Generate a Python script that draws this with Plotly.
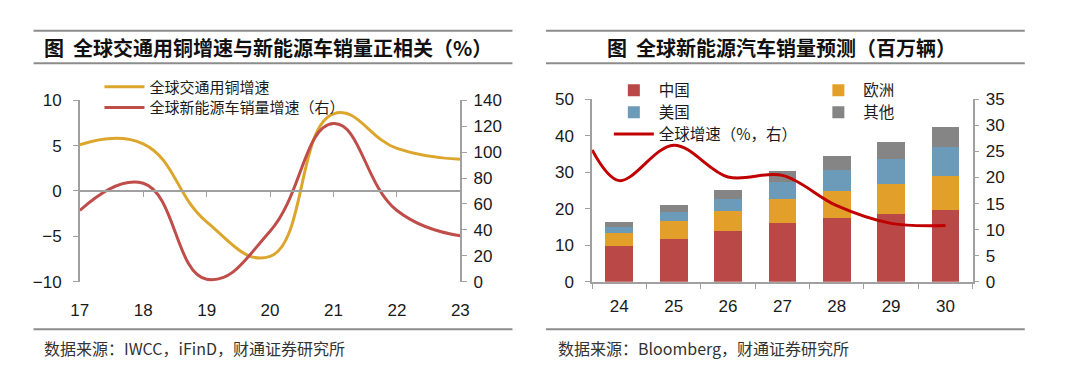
import plotly.graph_objects as go

# ---------------- Left chart data ----------------
left_years = [17, 18, 19, 20, 21, 22, 23]
left_ticktext = ["17", "18", "19", "20", "21", "22", "23"]
copper_growth = [5.1, 5.2, -3.4, -7.2, 8.5, 4.7, 3.5]        # 全球交通用铜增速 (left axis)
nev_sales_growth = [55, 76, 2, 39, 122, 55, 35.5]            # 全球新能源车销量增速 (right axis)

# ---------------- Right chart data ----------------
right_years = [24, 25, 26, 27, 28, 29, 30]
right_ticktext = ["24", "25", "26", "27", "28", "29", "30"]
china = [9.8, 11.8, 13.8, 16.1, 17.4, 18.5, 19.7]
europe = [3.6, 4.9, 5.6, 6.6, 7.6, 8.4, 9.2]
usa = [1.7, 2.3, 3.3, 4.7, 5.7, 6.8, 7.9]
other = [1.4, 1.9, 2.4, 2.9, 3.8, 4.6, 5.6]
growth_x = [23.5, 24, 25, 26, 27, 28, 29, 30]
global_growth = [25.3, 19.4, 26.2, 20.1, 20.4, 14.6, 11.2, 10.8]

W, H = 1080, 383
def px(x):
    return x / W
def py(y):
    return 1 - y / H

CJK = "Noto Sans CJK SC"
NUM = "Liberation Sans, Arial"
AXIS_GRAY = "#A0A0A0"
TXT = "#1a1a1a"

GOLD = "#DCA52C"
RED_L = "#BF4D4A"
C_CHINA = "#B94846"
C_EU = "#E2A02A"
C_US = "#6B9BB8"
C_OTHER = "#858585"
C_LINE = "#C00000"

fig = go.Figure()

# Left chart traces
fig.add_trace(go.Scatter(x=left_years, y=copper_growth, name="全球交通用铜增速",
                         mode="lines", line=dict(color=GOLD, width=3, shape="spline", smoothing=1.3),
                         xaxis="x", yaxis="y", legend="legend"))
fig.add_trace(go.Scatter(x=left_years, y=nev_sales_growth, name="全球新能源车销量增速（右）",
                         mode="lines", line=dict(color=RED_L, width=3, shape="spline", smoothing=1.3),
                         xaxis="x", yaxis="y2", legend="legend2"))

# Right chart traces
bw = 0.51
fig.add_trace(go.Bar(x=right_years, y=china, name="中国", marker=dict(color=C_CHINA, line=dict(width=0)),
                     width=bw, xaxis="x2", yaxis="y3", legend="legend3"))
fig.add_trace(go.Bar(x=right_years, y=europe, name="欧洲", marker=dict(color=C_EU, line=dict(width=0)),
                     width=bw, xaxis="x2", yaxis="y3", legend="legend4"))
fig.add_trace(go.Bar(x=right_years, y=usa, name="美国", marker=dict(color=C_US, line=dict(width=0)),
                     width=bw, xaxis="x2", yaxis="y3", legend="legend5"))
fig.add_trace(go.Bar(x=right_years, y=other, name="其他", marker=dict(color=C_OTHER, line=dict(width=0)),
                     width=bw, xaxis="x2", yaxis="y3", legend="legend6"))
fig.add_trace(go.Scatter(x=growth_x, y=global_growth, name="全球增速（%，右）", mode="lines",
                         line=dict(color=C_LINE, width=3, shape="spline", smoothing=1.0),
                         xaxis="x2", yaxis="y4", legend="legend7"))

tickfont = dict(family=NUM, size=17, color=TXT)
legfont_l = dict(family=CJK, size=15, color=TXT)
legfont_r = dict(family=CJK, size=15.5, color=TXT)

L_dom = [px(72), px(459)]
R_dom = [px(593), px(980)]
L_ydom = [py(287), py(96)]
R_ydom = [py(287), py(95)]

def leg(xpix, ypix, font):
    return dict(x=px(xpix), y=py(ypix), xanchor="left", yanchor="middle", orientation="v",
                bgcolor="rgba(0,0,0,0)", font=font, tracegroupgap=0, itemwidth=40,
                traceorder="normal")

fig.update_layout(
    width=W, height=H, margin=dict(l=0, r=0, t=0, b=0),
    paper_bgcolor="white", plot_bgcolor="white",
    barmode="stack", showlegend=True,
    # left x axis sits on the zero line; its labels are pushed down to the bottom
    xaxis=dict(domain=L_dom, range=[17, 23], tickvals=left_years, ticktext=left_ticktext,
               anchor="free", position=py(191.5),
               showline=True, linecolor=AXIS_GRAY, linewidth=1.5, showgrid=False, zeroline=False,
               ticks="outside", ticklen=5, tickcolor=AXIS_GRAY, tickfont=tickfont,
               ticklabelstandoff=99),
    yaxis=dict(domain=L_ydom, range=[-10, 10], tickvals=[-10, -5, 0, 5, 10], showline=True,
               linecolor=AXIS_GRAY, linewidth=1.5, ticks="outside", ticklen=5, tickcolor=AXIS_GRAY,
               showgrid=False, zeroline=False, tickfont=tickfont, ticklabelstandoff=8, anchor="x"),
    yaxis2=dict(domain=L_ydom, range=[0, 140], tickvals=[0, 20, 40, 60, 80, 100, 120, 140],
                overlaying="y", side="right", anchor="x", showline=True, linecolor=AXIS_GRAY,
                linewidth=1.5, ticks="outside", ticklen=5, tickcolor=AXIS_GRAY, showgrid=False,
                zeroline=False, tickfont=tickfont, ticklabelstandoff=3),
    xaxis2=dict(domain=R_dom, range=[23.5, 30.5], tickvals=right_years, ticktext=right_ticktext,
                showline=True, linecolor=AXIS_GRAY, linewidth=1.5, ticks="", showgrid=False,
                zeroline=False, tickfont=tickfont, ticklabelstandoff=8, anchor="y3",
                minor=dict(tick0=23.5, dtick=1, ticks="outside", ticklen=5, tickcolor=AXIS_GRAY,
                           showgrid=False)),
    yaxis3=dict(domain=R_ydom, range=[0, 50], tickvals=[0, 10, 20, 30, 40, 50], showline=True,
                linecolor=AXIS_GRAY, linewidth=1.5, ticks="outside", ticklen=5, tickcolor=AXIS_GRAY,
                showgrid=False, zeroline=False, tickfont=tickfont, ticklabelstandoff=8, anchor="x2"),
    yaxis4=dict(domain=R_ydom, range=[0, 35], tickvals=[0, 5, 10, 15, 20, 25, 30, 35],
                overlaying="y3", side="right", anchor="x2", showline=True, linecolor=AXIS_GRAY,
                linewidth=1.5, ticks="outside", ticklen=5, tickcolor=AXIS_GRAY, showgrid=False,
                zeroline=False, tickfont=tickfont, ticklabelstandoff=3),
    legend=leg(92, 82, legfont_l),
    legend2=leg(92, 104, legfont_l),
    legend3=leg(610, 86, legfont_r),
    legend4=leg(818, 86, legfont_r),
    legend5=leg(610, 109, legfont_r),
    legend6=leg(818, 109, legfont_r),
    legend7=leg(610, 132, legfont_r),
)

# Title / footer rules
line_style = dict(color="#8C8C8C", width=2)
shapes = []
for (x0, x1) in [(25, 512), (546, 1033)]:
    for yy in (23, 57, 337):
        shapes.append(dict(type="line", xref="paper", yref="paper", x0=px(x0), x1=px(x1),
                           y0=py(yy), y1=py(yy), line=line_style))
fig.update_layout(shapes=shapes)

titlefont = dict(family=CJK, size=20, color="#111111")
footfont = dict(family=CJK, size=16, color="#333333")
annotations = [
    dict(text="<b>图  全球交通用铜增速与新能源车销量正相关（%）</b>", x=px(263), y=py(40),
         xref="paper", yref="paper", xanchor="center", yanchor="middle", showarrow=False, font=titlefont),
    dict(text="<b>图  全球新能源汽车销量预测（百万辆）</b>", x=px(786), y=py(40),
         xref="paper", yref="paper", xanchor="center", yanchor="middle", showarrow=False, font=titlefont),
    dict(text="数据来源：IWCC，iFinD，财通证券研究所", x=px(34), y=py(357),
         xref="paper", yref="paper", xanchor="left", yanchor="middle", showarrow=False, font=footfont),
    dict(text="数据来源：Bloomberg，财通证券研究所", x=px(556), y=py(357),
         xref="paper", yref="paper", xanchor="left", yanchor="middle", showarrow=False, font=footfont),
]
fig.update_layout(annotations=annotations)

fig.write_html("out.html", config={"displayModeBar": False},
               post_script="document.body.style.margin='0';document.body.style.overflow='hidden';")
